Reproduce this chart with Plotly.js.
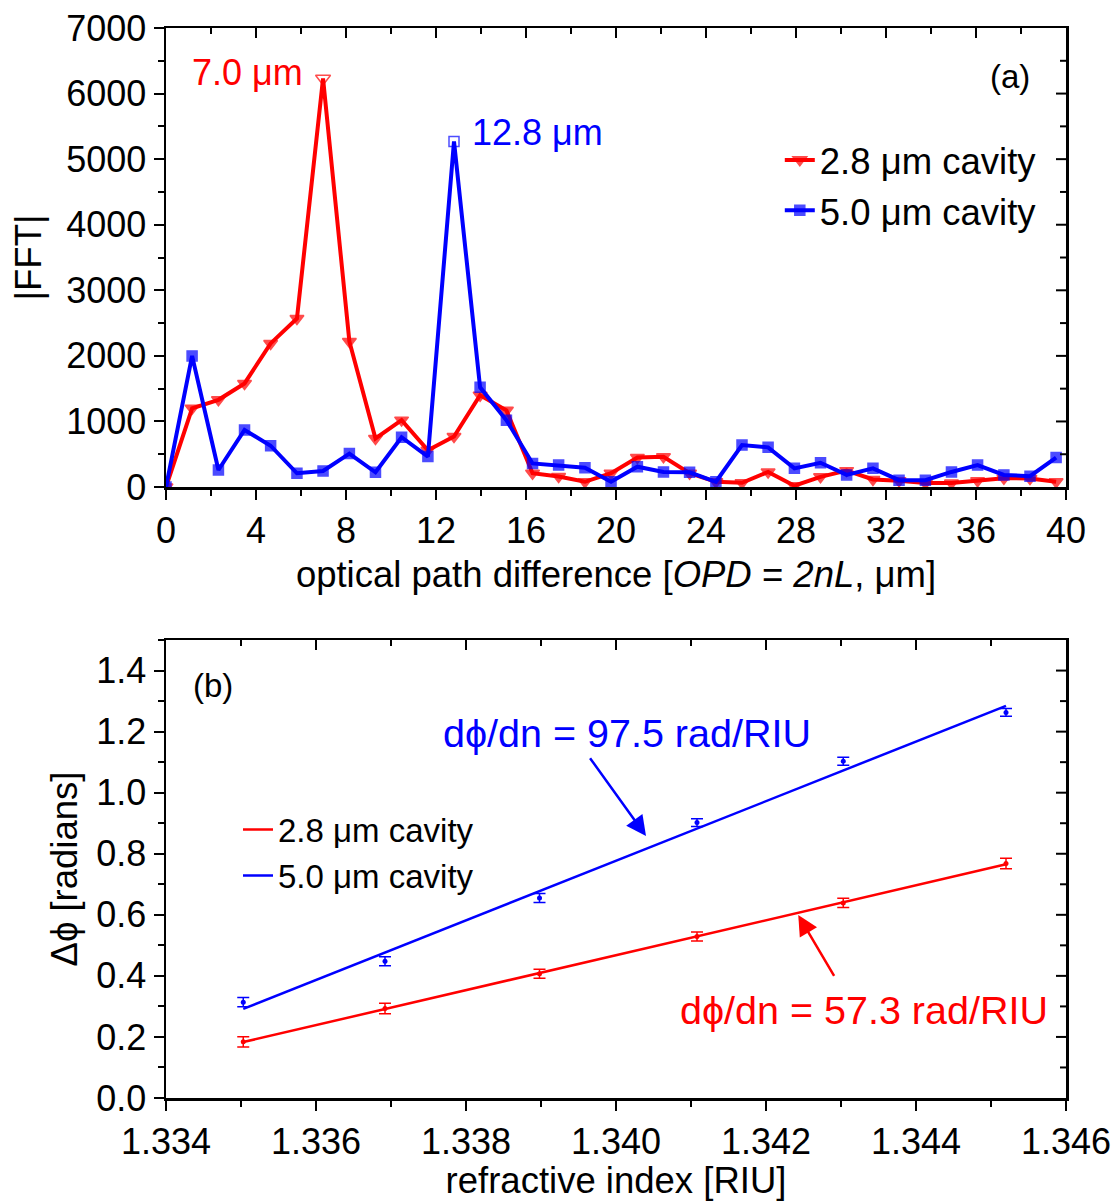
<!DOCTYPE html>
<html>
<head>
<meta charset="utf-8">
<script src="https://cdn.plot.ly/plotly-3.0.1.min.js"></script>
<style>html,body{margin:0;padding:0;background:#fff;}#chart{width:1120px;height:1201px;}</style>
</head>
<body>
<div id="chart"></div>
<script>
// ---------- Panel (a) data ----------
const opdX = [0, 1.16, 2.33, 3.49, 4.65, 5.82, 6.98, 8.15, 9.31, 10.47, 11.64, 12.80, 13.96, 15.13, 16.29, 17.45, 18.62, 19.78, 20.95, 22.11, 23.27, 24.44, 25.60, 26.76, 27.93, 29.09, 30.25, 31.42, 32.58, 33.75, 34.91, 36.07, 37.24, 38.40, 39.56];
const fft28 = [0, 1200, 1330, 1580, 2190, 2570, 6230, 2220, 740, 1020, 560, 770, 1400, 1170, 210, 160, 80, 210, 450, 460, 210, 80, 65, 230, 20, 155, 250, 115, 95, 60, 60, 95, 135, 130, 80];
const fft50 = [0, 2000, 260, 870, 630, 210, 245, 510, 225, 760, 465, 5270, 1520, 1020, 360, 335, 295, 80, 310, 230, 225, 80, 640, 605, 285, 370, 185, 285, 105, 105, 230, 335, 185, 165, 450];
const peak28Index = 6;
const peak50Index = 11;
const seriesNamesA = ['2.8 μm cavity', '5.0 μm cavity'];

// ---------- Panel (b) data ----------
const riX = [1.33503, 1.33692, 1.33898, 1.34108, 1.34303, 1.34520];
const phi28 = [0.184, 0.293, 0.407, 0.529, 0.639, 0.768];
const err28 = [0.017, 0.017, 0.015, 0.015, 0.015, 0.017];
const phi50 = [0.314, 0.448, 0.655, 0.902, 1.103, 1.263];
const err50 = [0.015, 0.015, 0.015, 0.013, 0.013, 0.013];
const seriesNamesB = ['2.8 μm cavity', '5.0 μm cavity'];

const RED = '#ff0000', BLUE = '#0000ff';
const FONT = 'Arial, "Liberation Sans", sans-serif';

function linFit(x, y) {
  const n = x.length;
  const mx = x.reduce((a, b) => a + b, 0) / n;
  const my = y.reduce((a, b) => a + b, 0) / n;
  let sxy = 0, sxx = 0;
  for (let i = 0; i < n; i++) { sxy += (x[i] - mx) * (y[i] - my); sxx += (x[i] - mx) * (x[i] - mx); }
  const k = sxy / sxx, b = my - k * mx;
  const xs = [x[0], x[n - 1]];
  return { x: xs, y: xs.map(v => b + k * v) };
}

const sym28 = opdX.map((_, i) => i === peak28Index ? 'triangle-down-open' : 'triangle-down');
const sz28 = opdX.map((_, i) => i === peak28Index ? 13 : 12);
const sym50 = opdX.map((_, i) => i === peak50Index ? 'square-open' : 'square');
const sz50 = opdX.map(() => 10);

const fit28 = linFit(riX, phi28);
const fit50 = linFit(riX, phi50);

const traces = [
  { x: opdX, y: fft28, name: seriesNamesA[0], type: 'scatter', mode: 'lines+markers', xaxis: 'x', yaxis: 'y',
    line: { color: RED, width: 4 }, marker: { color: RED, symbol: sym28, size: sz28, line: { color: RED, width: 1.5 } }, legend: 'legend' },
  { x: opdX, y: fft50, name: seriesNamesA[1], type: 'scatter', mode: 'lines+markers', xaxis: 'x', yaxis: 'y',
    line: { color: BLUE, width: 4 }, marker: { color: BLUE, symbol: sym50, size: sz50, line: { color: BLUE, width: 1.5 } }, legend: 'legend' },

  { x: riX, y: phi28, type: 'scatter', mode: 'markers', xaxis: 'x2', yaxis: 'y2', showlegend: false,
    marker: { color: RED, size: 5 }, error_y: { type: 'data', array: err28, color: RED, thickness: 1.5, width: 6 } },
  { x: riX, y: phi50, type: 'scatter', mode: 'markers', xaxis: 'x2', yaxis: 'y2', showlegend: false,
    marker: { color: BLUE, size: 5 }, error_y: { type: 'data', array: err50, color: BLUE, thickness: 1.5, width: 6 } },
  { x: fit28.x, y: fit28.y, name: seriesNamesB[0], type: 'scatter', mode: 'lines', xaxis: 'x2', yaxis: 'y2',
    line: { color: RED, width: 2.5 }, legend: 'legend2' },
  { x: fit50.x, y: fit50.y, name: seriesNamesB[1], type: 'scatter', mode: 'lines', xaxis: 'x2', yaxis: 'y2',
    line: { color: BLUE, width: 2.5 }, legend: 'legend2' }
];

const tickFont = { family: FONT, size: 36, color: '#000' };
const titleFont = { family: FONT, size: 36.5, color: '#000' };

function baseAxis(extra) {
  return Object.assign({
    showline: true, linecolor: '#000', linewidth: 2.5, mirror: true,
    ticks: 'outside', ticklen: 10, tickwidth: 2, tickcolor: '#000',
    showgrid: false, zeroline: false, tickfont: tickFont
  }, extra);
}
const minorOut = (d) => ({ dtick: d, ticks: 'outside', ticklen: 6, tickwidth: 2, tickcolor: '#000' });

const topDom = [0.571, 1.0];
const botDom = [0.0, 0.428];
const PLOT_W = 900, PLOT_H = 1070; // plot area in px (paper coordinates span this)

// Inward-pointing ticks on the top and right frame edges (Origin style), generated from each axis's tick spacing.
function mirrorTicks(dom, xr, xminor, yr, yminor) {
  const out = [];
  const ln = { color: '#000', width: 2 };
  const nx = Math.round((xr[1] - xr[0]) / xminor);
  for (let i = 1; i < nx; i++) {
    const px = i / nx, len = (i % 2 === 0 ? 10 : 6) / PLOT_H;
    out.push({ type: 'line', layer: 'above', xref: 'paper', yref: 'paper', x0: px, x1: px, y0: dom[1], y1: dom[1] - len, line: ln });
  }
  const ny = Math.round((yr[1] - yr[0]) / yminor);
  const hFrac = dom[1] - dom[0];
  for (let i = 1; i < ny; i++) {
    const py = dom[0] + hFrac * ((i * yminor) / (yr[1] - yr[0])), len = (i % 2 === 0 ? 10 : 6) / PLOT_W;
    if (py >= dom[1] - 1e-6) continue;
    out.push({ type: 'line', layer: 'above', xref: 'paper', yref: 'paper', x0: 1, x1: 1 - len, y0: py, y1: py, line: ln });
  }
  return out;
}

const layout = {
  width: 1120, height: 1201,
  margin: { l: 166, r: 54, t: 28, b: 103 },
  paper_bgcolor: '#fff', plot_bgcolor: 'rgba(0,0,0,0)',
  font: { family: FONT, color: '#000' },
  showlegend: true,
  xaxis: baseAxis({ domain: [0, 1], anchor: 'y', range: [0, 40], tick0: 0, dtick: 4, minor: minorOut(2),
    title: { text: 'optical path difference [<i>OPD</i> = <i>2nL</i>, μm]', font: titleFont, standoff: 12 } }),
  yaxis: baseAxis({ domain: topDom, anchor: 'x', range: [0, 7000], tick0: 0, dtick: 1000, minor: minorOut(500),
    title: { text: '|FFT|', font: titleFont, standoff: 14 } }),
  xaxis2: baseAxis({ domain: [0, 1], anchor: 'y2', range: [1.334, 1.346], tick0: 1.334, dtick: 0.002, tickformat: '.3f',
    minor: minorOut(0.001), title: { text: 'refractive index [RIU]', font: titleFont, standoff: 10 } }),
  yaxis2: baseAxis({ domain: botDom, anchor: 'x2', range: [0, 1.5], tick0: 0, dtick: 0.2, tickformat: '.1f',
    minor: minorOut(0.1), title: { text: 'Δϕ [radians]', font: titleFont, standoff: 8 } }),

  shapes: mirrorTicks(topDom, [0, 40], 2, [0, 7000], 500)
    .concat(mirrorTicks(botDom, [1.334, 1.346], 0.001, [0, 1.5], 0.1)),

  legend: { x: 0.682, y: 0.905, xanchor: 'left', yanchor: 'top', bgcolor: 'rgba(0,0,0,0)',
    font: { family: FONT, size: 36.5, color: '#000' }, tracegroupgap: 0 },
  legend2: { x: 0.080, y: 0.277, xanchor: 'left', yanchor: 'top', bgcolor: 'rgba(0,0,0,0)',
    font: { family: FONT, size: 33, color: '#000' }, tracegroupgap: 0 },

  annotations: [
    { xref: 'x', yref: 'y', x: 37.5, y: 6268, text: '(a)', showarrow: false, font: { family: FONT, size: 33, color: '#000' } },
    { xref: 'x', yref: 'y', x: 3.64, y: 6329, text: '7.0 μm', showarrow: false, font: { family: FONT, size: 36, color: RED } },
    { xref: 'x', yref: 'y', x: 16.53, y: 5414, text: '12.8 μm', showarrow: false, font: { family: FONT, size: 36, color: BLUE } },
    { xref: 'x2', yref: 'y2', x: 1.33463, y: 1.35, text: '(b)', showarrow: false, font: { family: FONT, size: 33, color: '#000' } },
    { xref: 'x2', yref: 'y2', x: 1.34015, y: 1.196, text: 'dϕ/dn = 97.5 rad/RIU', showarrow: false, font: { family: FONT, size: 39.5, color: BLUE } },
    { xref: 'x2', yref: 'y2', x: 1.34331, y: 0.288, text: 'dϕ/dn = 57.3 rad/RIU', showarrow: false, font: { family: FONT, size: 39.5, color: RED } },
    { xref: 'x2', yref: 'y2', axref: 'x2', ayref: 'y2', x: 1.34040, y: 0.858, ax: 1.33964, ay: 1.118, text: '',
      showarrow: true, arrowhead: 2, arrowsize: 1.6, arrowwidth: 2.5, arrowcolor: BLUE, standoff: 0 },
    { xref: 'x2', yref: 'y2', axref: 'x2', ayref: 'y2', x: 1.34243, y: 0.599, ax: 1.34292, ay: 0.395, text: '',
      showarrow: true, arrowhead: 2, arrowsize: 1.6, arrowwidth: 2.5, arrowcolor: RED, standoff: 0 }
  ]
};

Plotly.newPlot('chart', traces, layout, { displayModeBar: false, staticPlot: true });
</script>
</body>
</html>
